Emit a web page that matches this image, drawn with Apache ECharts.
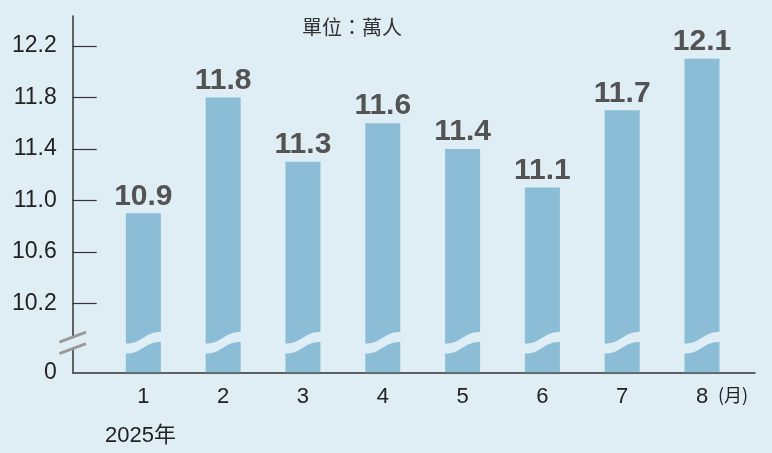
<!DOCTYPE html>
<html>
<head>
<meta charset="utf-8">
<script src="https://cdn.jsdelivr.net/npm/echarts@6/dist/echarts.min.js"></script>
<style>
  html, body { margin: 0; padding: 0; background: #dfedf5; }
  #chart { width: 772px; height: 453px; }
</style>
</head>
<body>
<div id="chart"></div>
<script>
// months of 2025 and visitors (萬人)
var months = [1, 2, 3, 4, 5, 6, 7, 8]
var visitors = [10.9, 11.8, 11.3, 11.6, 11.4, 11.1, 11.7, 12.1]
var yTicks = [10.2, 10.6, 11.0, 11.4, 11.8, 12.2]

var bg = '#dfedf5'
var barColor = '#8bbdd7'
var xMin = 0.115, xMax = 8.664
var yMin = 9.664, yMax = 12.433
var breakValue = 9.893

var chart = echarts.init(document.getElementById('chart'))

// wavy gap cut through each bar
function renderWave (params, api) {
  var c = api.coord([api.value(0), breakValue])
  var half = 19, a = 6, t = 10
  var xl = c[0] - half, xr = c[0] + half, y = c[1] - t / 2
  var path = 'M' + xl + ',' + (y + a) +
    ' C' + c[0] + ',' + (y + a) + ' ' + c[0] + ',' + (y - a) + ' ' + xr + ',' + (y - a) +
    ' L' + xr + ',' + (y - a + t) +
    ' C' + c[0] + ',' + (y - a + t) + ' ' + c[0] + ',' + (y + a + t) + ' ' + xl + ',' + (y + a + t) + ' Z'
  return { type: 'path', shape: { pathData: path }, style: { fill: bg } }
}

// "//" mark on the y axis
function renderAxisBreak (params, api) {
  var c = api.coord([xMin, breakValue])
  var dx = 13.3, dy = 5, off = 5.8
  var x0 = c[0] - dx, x1 = c[0] + dx
  return {
    type: 'group',
    children: [
      { type: 'polygon', shape: { points: [[x0, c[1] - off + dy], [x1, c[1] - off - dy], [x1, c[1] + off - dy], [x0, c[1] + off + dy]] }, style: { fill: bg } },
      { type: 'line', shape: { x1: x0, y1: c[1] - off + dy, x2: x1, y2: c[1] - off - dy }, style: { stroke: '#9a9a9a', lineWidth: 3 } },
      { type: 'line', shape: { x1: x0, y1: c[1] + off + dy, x2: x1, y2: c[1] + off - dy }, style: { stroke: '#9a9a9a', lineWidth: 3 } }
    ]
  }
}

chart.setOption({
  backgroundColor: bg,
  animation: false,
  grid: { left: 72.7, right: 17, top: 16, bottom: 80.7, containLabel: false },
  xAxis: {
    type: 'value',
    min: xMin,
    max: xMax,
    splitLine: { show: false },
    axisTick: { show: false },
    axisLine: { show: true, lineStyle: { color: '#333', width: 1.5 } },
    axisLabel: {
      customValues: months,
      fontSize: 22,
      color: '#222',
      fontFamily: 'Liberation Sans',
      margin: 14
    }
  },
  yAxis: {
    type: 'value',
    min: yMin,
    max: yMax,
    splitLine: { show: false },
    axisLine: { show: true, lineStyle: { color: '#333', width: 1.5 } },
    axisTick: { show: true, inside: true, length: 24, customValues: yTicks, lineStyle: { color: '#333', width: 1.2 } },
    axisLabel: {
      customValues: [yMin].concat(yTicks),
      formatter: function (v) { return v < 10 ? '0' : v.toFixed(1) },
      fontSize: 23,
      color: '#222',
      fontFamily: 'Liberation Sans',
      margin: 16
    }
  },
  graphic: [
    { type: 'text', left: 302, top: 17, style: { text: '單位：萬人', font: '20px "Noto Sans CJK TC"', fill: '#333' } },
    { type: 'text', left: 105, top: 425, style: { text: '2025年', font: '22px "Liberation Sans", "Noto Sans CJK TC"', fill: '#222' } },
    { type: 'text', left: 718, top: 386, style: { text: '(月)', font: '18px "Noto Sans CJK TC"', fill: '#222' } }
  ],
  series: [
    {
      type: 'bar',
      data: months.map(function (m, i) { return [m, visitors[i]] }),
      barWidth: 35,
      itemStyle: { color: barColor },
      label: {
        show: true,
        position: 'top',
        distance: 2,
        formatter: function (p) { return p.value[1].toFixed(1) },
        fontSize: 30,
        fontWeight: 'bold',
        color: '#535353',
        fontFamily: 'Liberation Sans'
      }
    },
    {
      type: 'custom',
      renderItem: renderWave,
      data: months.map(function (m) { return [m, breakValue] }),
      z: 3
    },
    {
      type: 'custom',
      renderItem: renderAxisBreak,
      data: [[xMin, breakValue]],
      clip: false,
      z: 5
    }
  ]
})
</script>
</body>
</html>
